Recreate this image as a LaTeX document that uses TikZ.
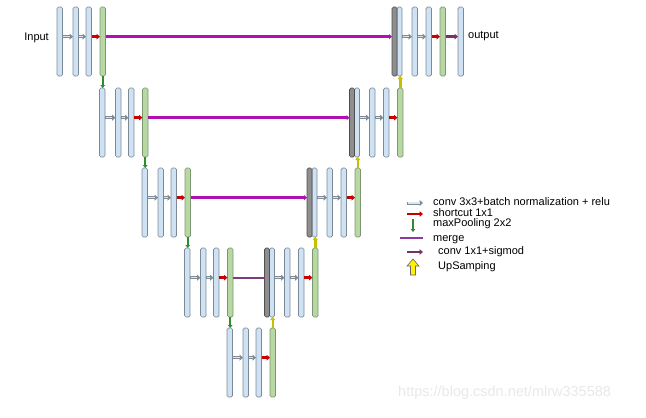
\documentclass[tikz,border=0pt]{standalone}
\usepackage{fontspec}
\setmainfont{Liberation Sans}
\usetikzlibrary{calc,arrows.meta}
\definecolor{barblue}{HTML}{CFE2F3}
\definecolor{barline}{HTML}{7D8A96}
\definecolor{bargreen}{HTML}{B7D7A3}
\definecolor{greenline}{HTML}{7C9670}
\definecolor{bargray}{HTML}{8E8E8E}
\definecolor{grayline}{HTML}{4F4F4F}
\definecolor{convgray}{HTML}{7F8C98}
\definecolor{convlight}{HTML}{DCE6EF}
\definecolor{shortred}{HTML}{C80000}
\definecolor{mergemag}{HTML}{B010B0}
\definecolor{mergepur}{HTML}{7A3F7A}
\definecolor{legpur}{HTML}{8A3AA0}
\definecolor{sigpur}{HTML}{7A3062}
\definecolor{poolgreen}{HTML}{2E8B2E}
\definecolor{upyellow}{HTML}{C8BE00}
\newcommand\hconn[3]{\draw[#1] ($(#2.north east)!0.43!(#2.south east)$) -- ($(#3.north west)!0.43!(#3.south west)$);}
\newcommand\convarr[2]{\hconn{convout}{#1}{#2}\hconn{convin}{#1}{#2}}
\begin{document}
\begin{tikzpicture}[x=1pt,y=-1pt,
  barbase/.style={rectangle, inner sep=0pt, outer sep=0pt, minimum width=5.5pt, minimum height=69pt, rounded corners=1.5pt, line width=0.7pt, anchor=north west},
  bluebar/.style={barbase, fill=barblue, draw=barline},
  greenbar/.style={barbase, fill=bargreen, draw=greenline},
  graybar/.style={barbase, fill=bargray, draw=grayline, minimum width=5pt},
  convout/.style={draw=convgray, line width=3pt, -{Triangle[length=3.5pt,width=6pt]}},
  convin/.style={draw=convlight, line width=1.1pt, shorten >=3.2pt, shorten <=0.8pt},
  redarrow/.style={draw=shortred, line width=2.5pt, -{Triangle[length=3.5pt,width=5.5pt]}},
  mergeline/.style={draw=mergemag, line width=3pt, -{Triangle[length=3pt,width=5pt]}},
  mergethin/.style={draw=mergepur, line width=2pt},
  pooldown/.style={draw=poolgreen, line width=2pt, -{Triangle[length=3pt,width=4.5pt]}},
  upline/.style={draw=upyellow, line width=2.5pt, -{Triangle[length=3pt,width=5pt]}},
  sigarrow/.style={draw=sigpur, line width=2.5pt, -{Triangle[length=3.5pt,width=5.5pt]}},
  legtext/.style={anchor=west, inner sep=0pt, font=\fontsize{11}{12}\selectfont, text height=8pt, text depth=2.3pt},
]
\useasboundingbox (0,0) rectangle (646,418);
% watermark
\node[anchor=west, inner sep=0pt, font=\fontsize{14.5}{16}\selectfont, text=black!9] (wm) at (398,393) {https://blog.csdn.net/mlrw335588};
% encoder levels
\foreach \k/\ex/\ty in {1/57/7, 2/99.5/88, 3/142/168, 4/184.5/248, 5/227/328} {
  \node[bluebar] (ea\k) at (\ex,\ty) {};
  \node[bluebar] (eb\k) at (\ex+16,\ty) {};
  \node[bluebar] (ec\k) at (\ex+29,\ty) {};
  \node[greenbar] (eg\k) at (\ex+43,\ty) {};
  \convarr{ea\k}{eb\k}
  \convarr{eb\k}{ec\k}
  \hconn{redarrow}{ec\k}{eg\k}
}
% decoder levels
\foreach \k/\dx/\ty in {1/392/7, 2/349.5/88, 3/307/168, 4/264.5/248} {
  \node[bluebar, minimum width=5pt] (dl\k) at (\dx+5,\ty) {};
  \node[graybar] (dk\k) at (\dx,\ty) {};
  \node[bluebar] (db\k) at (\dx+20,\ty) {};
  \node[bluebar] (dc\k) at (\dx+34,\ty) {};
  \node[greenbar] (dg\k) at (\dx+48,\ty) {};
  \convarr{dl\k}{db\k}
  \convarr{db\k}{dc\k}
  \hconn{redarrow}{dc\k}{dg\k}
}
\node[bluebar] (out) at (458,7) {};
\hconn{sigarrow}{dg1}{out}
% merges
\hconn{mergeline}{eg1}{dk1}
\hconn{mergeline}{eg2}{dk2}
\hconn{mergeline}{eg3}{dk3}
\hconn{mergethin}{eg4}{dk4}
% pooling
\draw[pooldown] (eg1.south) -- (eg1.south |- ea2.north);
\draw[pooldown] (eg2.south) -- (eg2.south |- ea3.north);
\draw[pooldown] (eg3.south) -- (eg3.south |- ea4.north);
\draw[pooldown] (eg4.south) -- (eg4.south |- ea5.north);
% upsampling
\draw[upline] (eg5.north) -- (eg5.north |- dl4.south);
\draw[upline] (dg4.north) -- (dg4.north |- dl3.south);
\draw[upline] (dg3.north) -- (dg3.north |- dl2.south);
\draw[upline] (dg2.north) -- (dg2.north |- dl1.south);
% labels
\node[legtext, anchor=east] (inlab) at (49,38) {Input};
\node[legtext] (outlab) at (468,36) {output};
% legend
\coordinate (la1) at (407,203); \coordinate (lb1) at (423,203);
\draw[convout] (la1) -- (lb1); \draw[convin] (la1) -- (lb1);
\node[legtext] (t1) at (433,203) {conv 3x3+batch normalization + relu};
\coordinate (la2) at (407,214); \coordinate (lb2) at (423,214);
\draw[redarrow] (la2) -- (lb2);
\node[legtext] (t2) at (433,214) {shortcut 1x1};
\coordinate (la3) at (413,219); \coordinate (lb3) at (413,232);
\draw[pooldown] (la3) -- (lb3);
\node[legtext] (t3) at (433,224) {maxPooling 2x2};
\coordinate (la4) at (400,238); \coordinate (lb4) at (423,238);
\draw[draw=legpur, line width=1.6pt] (la4) -- (lb4);
\node[legtext] (t4) at (433,239) {merge};
\coordinate (la5) at (407,252); \coordinate (lb5) at (423,252);
\draw[sigarrow] (la5) -- (lb5);
\node[legtext] (t5) at (438,252) {conv 1x1+sigmod};
\draw[fill=yellow, draw=black!60, line width=0.6pt, line join=miter]
  (410.5,275) -- (415.5,275) -- (415.5,266) -- (419,266) -- (413,259) -- (407,266) -- (410.5,266) -- cycle;
\node[legtext] (t6) at (438,267) {UpSamping};
\end{tikzpicture}
\end{document}
